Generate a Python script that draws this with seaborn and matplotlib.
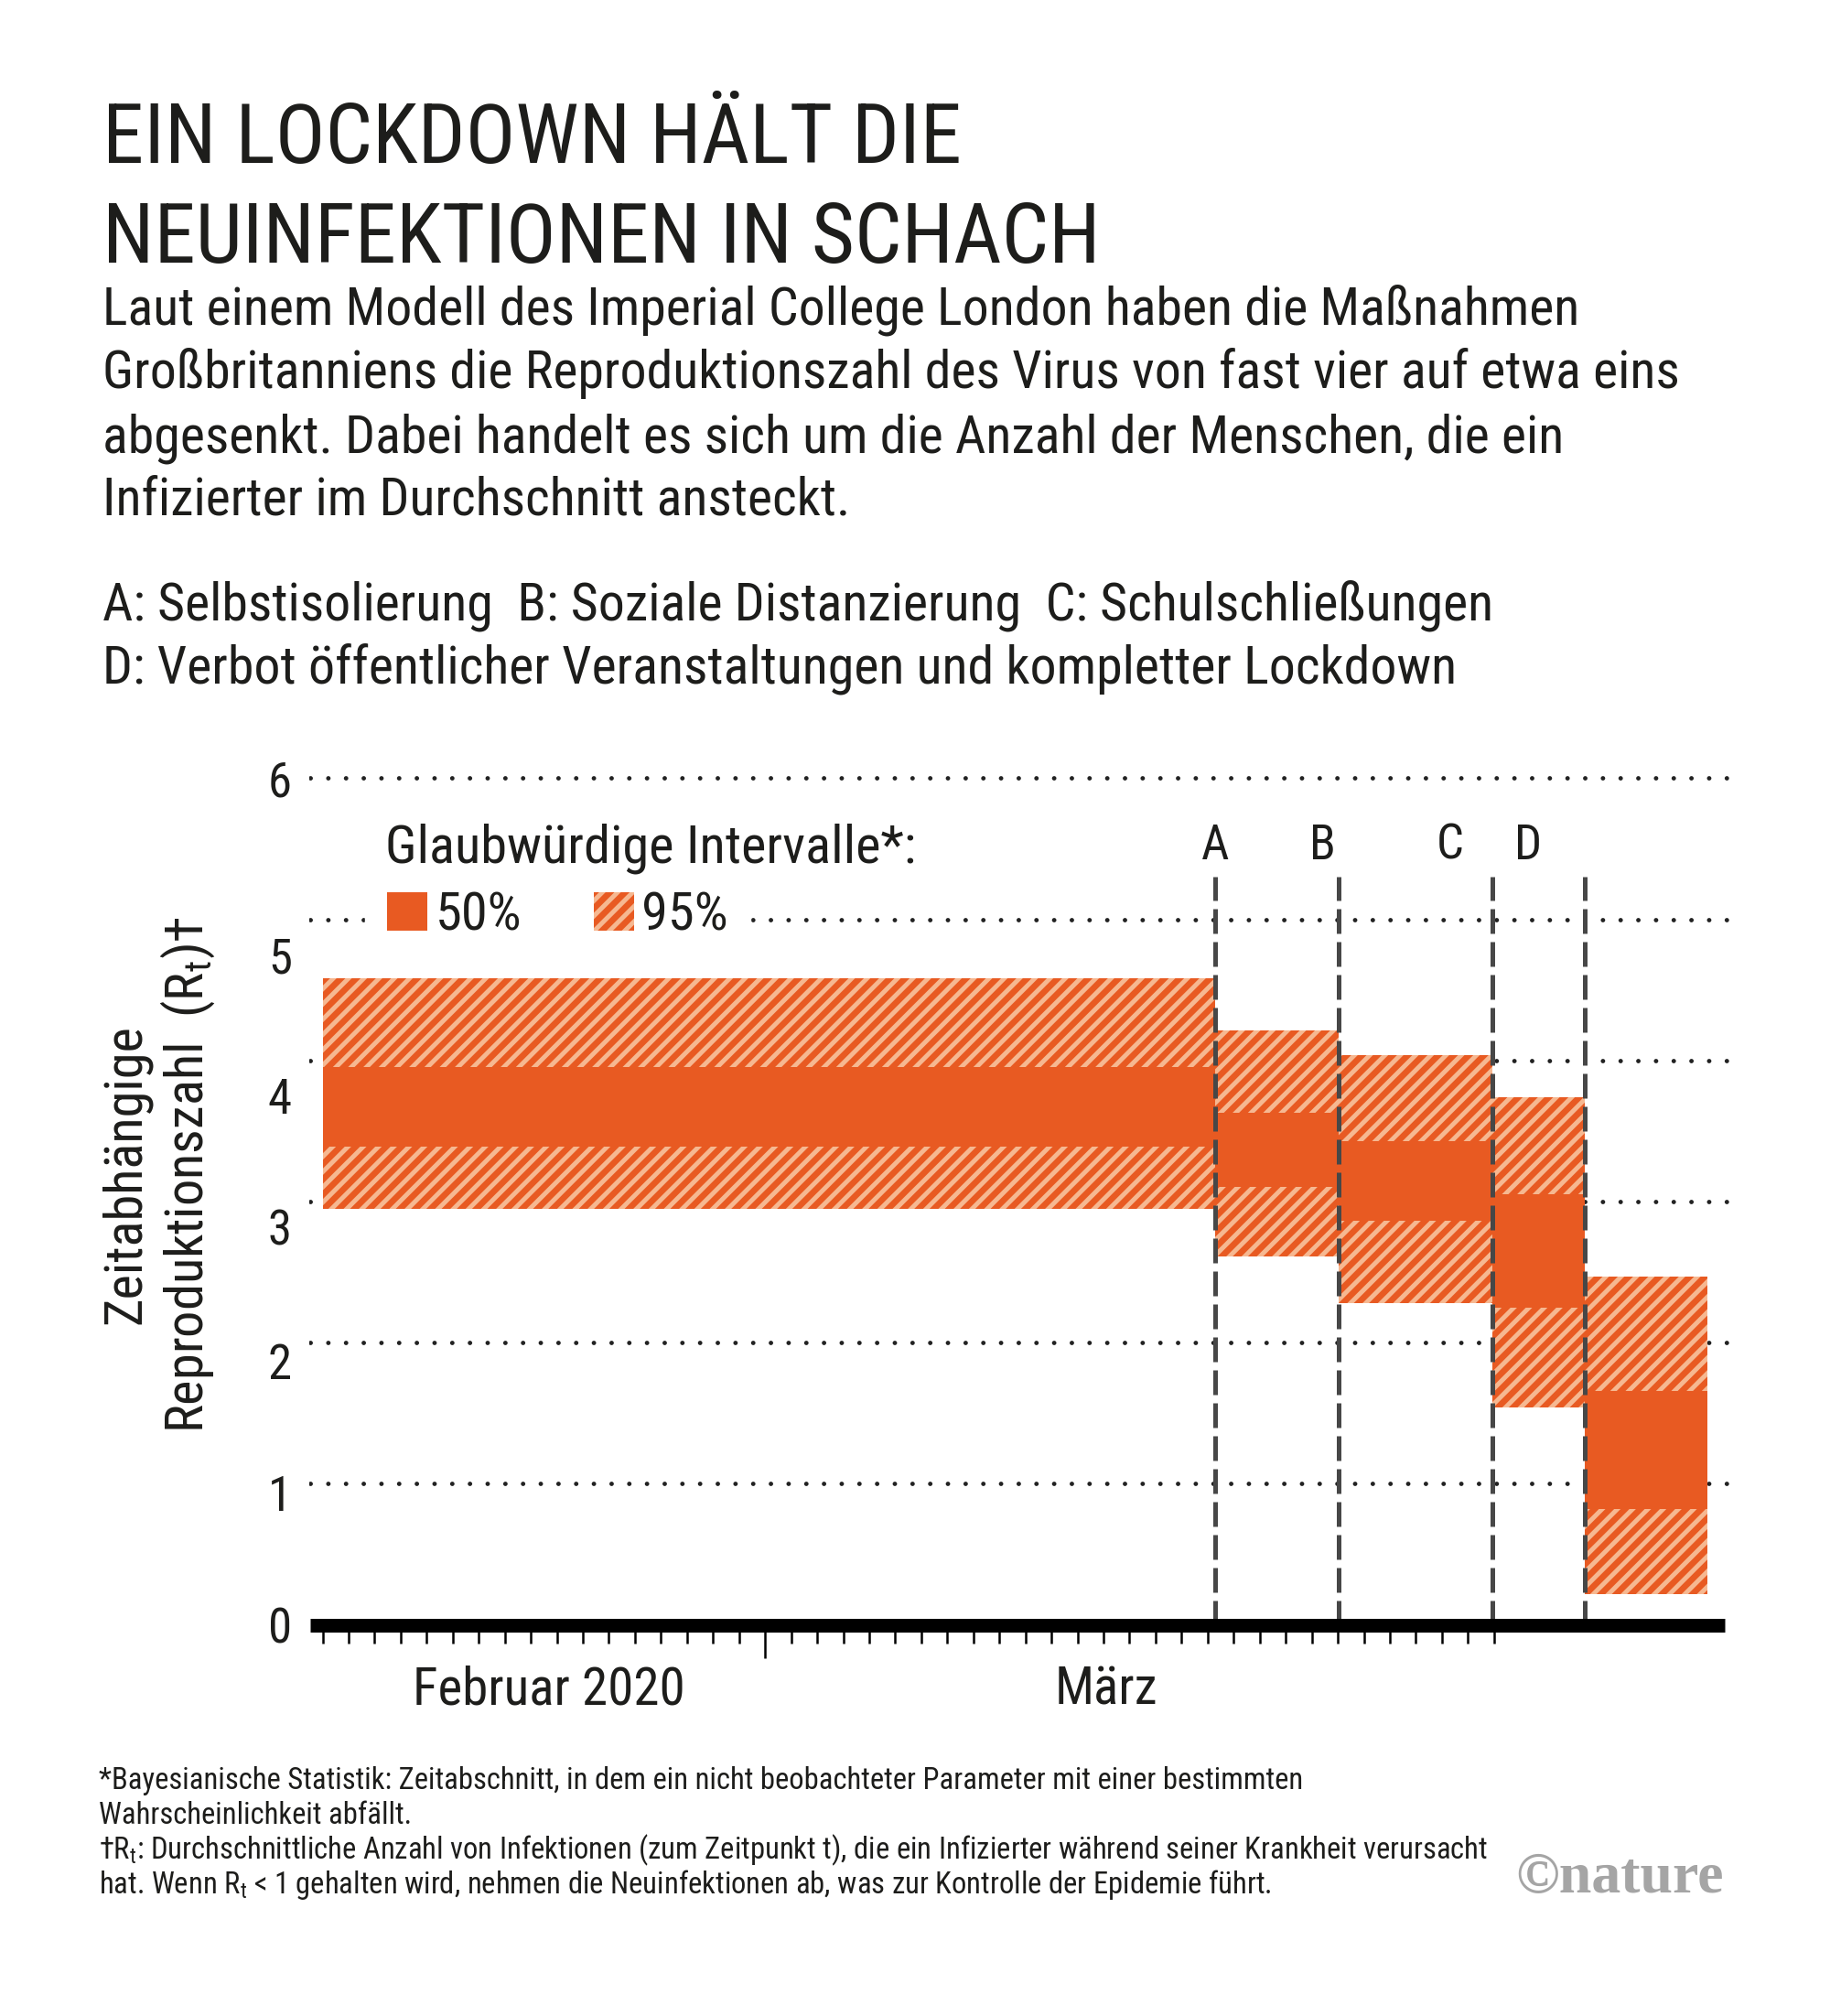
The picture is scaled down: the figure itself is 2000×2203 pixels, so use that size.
import numpy as np
import matplotlib
matplotlib.use('Agg')
import matplotlib.pyplot as plt
from matplotlib import font_manager
from matplotlib.patches import Patch
import seaborn as sns

# x = Tage ab 13. Februar 2020 (ein Tick pro Tag), y = R_t
seg_start = [0, 34.3, 39.05, 44.95, 48.5]
seg_end = [34.3, 39.05, 44.95, 48.5, 53.2]
lo95 = [2.95, 2.61, 2.28, 1.54, 0.22]
lo50 = [3.39, 3.10, 2.86, 2.25, 0.82]
hi50 = [3.95, 3.63, 3.43, 3.05, 1.66]
hi95 = [4.58, 4.21, 4.04, 3.74, 2.47]

interventions = ['A', 'B', 'C', 'D']
interv_x = [34.3, 39.05, 44.95, 48.5]
letter_x = [34.3, 38.4, 43.3, 46.3]

day_ticks = list(range(0, 46))
month_start = 17
month_labels = ['Februar 2020', 'März']
month_label_x = [8.7, 30.1]

ytick_labels = ['0', '1', '2', '3', '4', '5', '6']
ytick_pos = [0, 0.94, 1.87, 2.82, 3.75, 4.75, 6.0]
grid_levels = [1, 2, 3, 4, 5, 6]

ORANGE = '#E85A22'
LIGHT = '#F6B891'
INK = '#1d1d1b'

sns.set_theme(style='white')
avail = {f.name for f in font_manager.fontManager.ttflist}
FONT = next(f for f in ['Roboto Condensed', 'Liberation Sans Narrow', 'Roboto', 'DejaVu Sans'] if f in avail)
plt.rcParams['font.family'] = [FONT, 'DejaVu Sans']
plt.rcParams['hatch.linewidth'] = 3.6
plt.rcParams['text.color'] = INK

fig = plt.figure(figsize=(20, 22.03), dpi=100)
ax = fig.add_axes([0.16915, 0.19405, 0.78095, 0.42697])
ax.set_xlim(-0.5, 54.4)
ax.set_ylim(0, 6.1)

# gepunktete Hilfslinien
for lv in grid_levels:
    ax.axhline(lv, xmin=0.0005, xmax=1, color='#222222', lw=3.5,
               linestyle=(0, (0.01, 3.97)), dash_capstyle='round', zorder=1)

x0 = np.array(seg_start)
w = np.array(seg_end) - x0
ax.bar(x0, np.array(hi95) - np.array(lo95), width=w, bottom=lo95, align='edge',
       color=ORANGE, edgecolor=LIGHT, linewidth=0, hatch='//', zorder=2)
ax.bar(x0, np.array(hi50) - np.array(lo50), width=w, bottom=lo50, align='edge',
       color=ORANGE, edgecolor=ORANGE, linewidth=0, zorder=2.5)

ax.vlines(interv_x, 0, 5.30, colors='#474747', linewidth=3.6,
          linestyles=(0, (5.4, 1.8)), zorder=3)
for lx, lab in zip(letter_x, interventions):
    ax.text(lx, 5.52, lab, ha='center', va='center', fontsize=38, color=INK)

# dicke Grundlinie
ax.hlines(0, -0.47, 53.86, colors='black', linewidth=10.8, zorder=4, clip_on=False)

sns.despine(ax=ax, left=True, bottom=True)
ax.set_xticks([month_start])
ax.set_xticks(day_ticks, minor=True)
ax.tick_params(axis='x', which='major', bottom=True, length=26, width=1.8,
               color='black', direction='out', labelbottom=False)
ax.tick_params(axis='x', which='minor', bottom=True, length=14.5, width=1.8,
               color='black', direction='out')
for mx, ml in zip(month_label_x, month_labels):
    ax.text(mx, -0.092, ml, transform=ax.get_xaxis_transform(), ha='center',
            va='baseline', fontsize=41, color=INK)

ax.set_yticks(ytick_pos, ytick_labels)
ax.tick_params(axis='y', length=0, pad=14, labelsize=38, labelcolor=INK)
ax.grid(False)

# Legende: Titel als Text, Einträge mit weißem Kasten über der Hilfslinie
fig.text(0.2105, 0.5724, 'Glaubwürdige Intervalle*:', fontsize=42, va='baseline', color=INK)
handles = [Patch(facecolor=ORANGE, edgecolor=ORANGE, lw=0),
           Patch(facecolor=ORANGE, edgecolor=LIGHT, hatch='//', lw=0)]
leg = ax.legend(handles, ['50%', '95%'], ncol=2,
                loc='center left', bbox_to_anchor=(0.1995, 0.5457),
                bbox_transform=fig.transFigure, frameon=True, fancybox=False,
                framealpha=1, facecolor='white', edgecolor='white',
                fontsize=42, handlelength=0.75, handleheight=0.75,
                handletextpad=0.15, columnspacing=1.35, borderpad=0.41,
                borderaxespad=0)
leg.set_zorder(5)

# Titel und Texte
fig.text(0.056, 0.9192, 'EIN LOCKDOWN HÄLT DIE', fontsize=65.5, va='baseline', color=INK)
fig.text(0.056, 0.86972, 'NEUINFEKTIONEN IN SCHACH', fontsize=65.5, va='baseline', color=INK)

sub = ['Laut einem Modell des Imperial College London haben die Maßnahmen',
       'Großbritanniens die Reproduktionszahl des Virus von fast vier auf etwa eins',
       'abgesenkt. Dabei handelt es sich um die Anzahl der Menschen, die ein',
       'Infizierter im Durchschnitt ansteckt.']
for yy, s in zip([0.83886, 0.80754, 0.77576, 0.74444], sub):
    fig.text(0.056, yy, s, fontsize=41.7, va='baseline', color=INK)

fig.text(0.056, 0.69269, 'A: Selbstisolierung  B: Soziale Distanzierung  C: Schulschließungen',
         fontsize=41.7, va='baseline', color=INK)
fig.text(0.056, 0.66137, 'D: Verbot öffentlicher Veranstaltungen und kompletter Lockdown',
         fontsize=41.7, va='baseline', color=INK)

# y-Achsentitel (zweizeilig)
fig.text(0.0765, 0.4175, 'Zeitabhängige', rotation=90, rotation_mode='anchor',
         ha='center', va='baseline', fontsize=42, color=INK)
fig.text(0.111, 0.4175, r'Reproduktionszahl  (R$_\mathregular{t}$)†', rotation=90,
         rotation_mode='anchor', ha='center', va='baseline', fontsize=42, color=INK)

foot = ['*Bayesianische Statistik: Zeitabschnitt, in dem ein nicht beobachteter Parameter mit einer bestimmten',
        'Wahrscheinlichkeit abfällt.',
        r'†R$_\mathregular{t}$: Durchschnittliche Anzahl von Infektionen (zum Zeitpunkt t), die ein Infizierter während seiner Krankheit verursacht',
        r'hat. Wenn R$_\mathregular{t}$ < 1 gehalten wird, nehmen die Neuinfektionen ab, was zur Kontrolle der Epidemie führt.']
for yy, s in zip([0.11257, 0.09532, 0.07808, 0.06083], foot):
    fig.text(0.054, yy, s, fontsize=23.5, va='baseline', color=INK)

fig.text(0.942, 0.06128, '©nature', fontsize=46, fontweight='bold', ha='right',
         va='baseline', color='#a5a5a5', family=['Liberation Serif', 'DejaVu Serif'])

fig.savefig('out.png', dpi=100)
